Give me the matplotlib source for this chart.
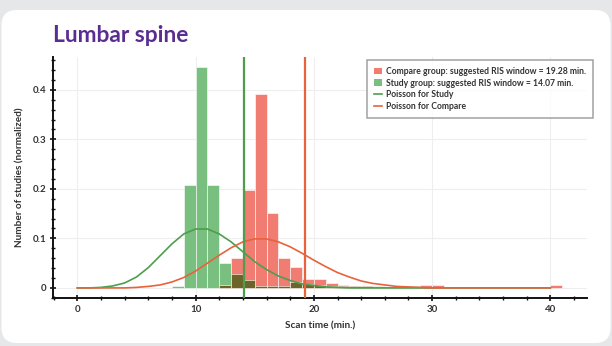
import numpy as np
import matplotlib.pyplot as plt
from matplotlib.patches import FancyBboxPatch, Patch
from matplotlib.lines import Line2D
from matplotlib.ticker import MultipleLocator

# histogram bins (1 min wide), left edges
study_edges = [8, 9, 10, 11, 12, 13, 14, 15, 16, 17, 18, 19, 20, 21, 22, 23, 24, 25, 26, 27, 28, 29]
study_vals = [0.003, 0.208, 0.446, 0.208, 0.05, 0.028, 0.016, 0.004, 0.004, 0.004, 0.012,
              0.008, 0.006, 0.004, 0.003, 0.004, 0.003, 0.004, 0.002, 0.002, 0.003, 0.001]

compare_edges = [12, 13, 14, 15, 16, 17, 18, 19, 20, 21, 22, 23, 24, 25, 26, 27, 28, 29, 30, 40]
compare_vals = [0.006, 0.06, 0.198, 0.392, 0.151, 0.06, 0.042, 0.018, 0.018, 0.01, 0.006,
                0.003, 0.003, 0.002, 0.001, 0.001, 0.001, 0.005, 0.005, 0.005]

curve_x = list(range(0, 41))
study_curve = [0, 0, 0.001, 0.004, 0.010, 0.022, 0.041, 0.065, 0.089, 0.109, 0.119, 0.119,
               0.109, 0.093, 0.073, 0.053, 0.037, 0.024, 0.015, 0.008, 0.005, 0.002, 0.001] + [0] * 18
compare_curve = [0, 0, 0, 0, 0, 0.001, 0.003, 0.006, 0.012, 0.021, 0.034, 0.050, 0.066, 0.081,
                 0.093, 0.099, 0.099, 0.093, 0.083, 0.070, 0.056, 0.043, 0.031, 0.022, 0.014,
                 0.009, 0.006, 0.003, 0.002, 0.001] + [0] * 11

study_window = 14.07
compare_window = 19.28

x_ticks = [0, 10, 20, 30, 40]
y_ticks = [0, 0.1, 0.2, 0.3, 0.4]
y_tick_labels = ["0", "0.1", "0.2", "0.3", "0.4"]

GREEN_BAR = "#78bf80"
RED_BAR = "#f07c72"
OLIVE = "#6c6428"
GREEN_LINE = "#4e9e4e"
RED_LINE = "#e8623c"

plt.rcParams['font.family'] = ['Lato', 'DejaVu Sans']

fig = plt.figure(figsize=(6.12, 3.46), dpi=100)
fig.patch.set_facecolor("#e6e7e9")

# white card behind everything
card = FancyBboxPatch((1.5 / 612, 3 / 346), 609 / 612, 333 / 346,
                      boxstyle="round,pad=0,rounding_size=0.025",
                      transform=fig.transFigure, facecolor="white", edgecolor="none",
                      mutation_aspect=612 / 346, zorder=-10)
fig.patches.append(card)

fig.text(53 / 612, 1 - 42 / 346, "Lumbar spine", fontsize=16.4, fontweight="bold",
         color="#5a2d91", ha="left", va="baseline")

ax = fig.add_axes([53 / 612, 1 - 298.3 / 346, 534 / 612, 241.6 / 346])
ax.set_facecolor("none")

sv = np.array(study_vals)
cv = np.array(compare_vals)
ax.bar(study_edges, sv, width=1, align="edge", color=GREEN_BAR,
       edgecolor="white", linewidth=0.4, zorder=2)
ax.bar(compare_edges, cv, width=1, align="edge", color=RED_BAR,
       edgecolor="white", linewidth=0.4, zorder=3)

# overlapping parts of the two histograms
ov = {}
for e, v in zip(study_edges, study_vals):
    ov[e] = [v, 0]
for e, v in zip(compare_edges, compare_vals):
    ov.setdefault(e, [0, 0])[1] = v
ov_edges = [e for e in ov if min(ov[e]) > 0]
ov_vals = [min(ov[e]) for e in ov_edges]
ax.bar(ov_edges, ov_vals, width=1, align="edge", color=OLIVE,
       edgecolor="white", linewidth=0.4, zorder=4)

ax.plot(curve_x, study_curve, color=GREEN_LINE, linewidth=1.2, zorder=5)
ax.plot(curve_x, compare_curve, color=RED_LINE, linewidth=1.2, zorder=6)

ax.axvline(study_window, color=GREEN_LINE, linewidth=1.6, zorder=7)
ax.axvline(compare_window, color=RED_LINE, linewidth=1.6, zorder=7)

ax.set_xlim(-2.06, 43.1)
ax.set_ylim(-0.021, 0.467)

ax.set_xticks(x_ticks)
ax.set_xticklabels([str(t) for t in x_ticks])
ax.set_yticks(y_ticks)
ax.set_yticklabels(y_tick_labels)
ax.xaxis.set_minor_locator(MultipleLocator(2))
ax.yaxis.set_minor_locator(MultipleLocator(0.02))

ax.grid(True, which="major", color="#eeeeee", linewidth=0.8, zorder=0)
ax.set_axisbelow(True)

for s in ["top", "right"]:
    ax.spines[s].set_visible(False)
for s in ["left", "bottom"]:
    ax.spines[s].set_linewidth(1.4)
    ax.spines[s].set_color("#111111")

ax.tick_params(which="major", direction="inout", length=5, width=1.2, color="#111111",
               labelsize=7, labelcolor="#333333", pad=2)
ax.tick_params(which="minor", direction="inout", length=3, width=1.0, color="#111111")
for lab in ax.get_xticklabels() + ax.get_yticklabels():
    lab.set_fontweight("bold")

ax.set_xlabel("Scan time (min.)", fontsize=7.2, fontweight="bold", color="#333333", labelpad=6)
ax.set_ylabel("Number of studies (normalized)", fontsize=7.2, fontweight="bold",
              color="#333333", labelpad=6)

handles = [
    Patch(facecolor=RED_BAR, edgecolor="none"),
    Patch(facecolor=GREEN_BAR, edgecolor="none"),
    Line2D([], [], color=GREEN_LINE, linewidth=1.2),
    Line2D([], [], color=RED_LINE, linewidth=1.2),
]
labels = [
    f"Compare group: suggested RIS window = {compare_window} min.",
    f"Study group: suggested RIS window = {study_window} min.",
    "Poisson for Study",
    "Poisson for Compare",
]
leg = ax.legend(handles, labels, loc="upper right", bbox_to_anchor=(1.011, 0.986),
                frameon=True, fancybox=False, edgecolor="#8a8a8a",
                handlelength=0.9, handleheight=0.8, handletextpad=0.5,
                labelspacing=0.3, borderpad=0.8, borderaxespad=0,
                prop={"weight": "bold", "size": 6.2})
leg.get_frame().set_linewidth(1.1)
for t in leg.get_texts():
    t.set_color("#333333")

fig.savefig("out.png", dpi=100, facecolor=fig.get_facecolor())
